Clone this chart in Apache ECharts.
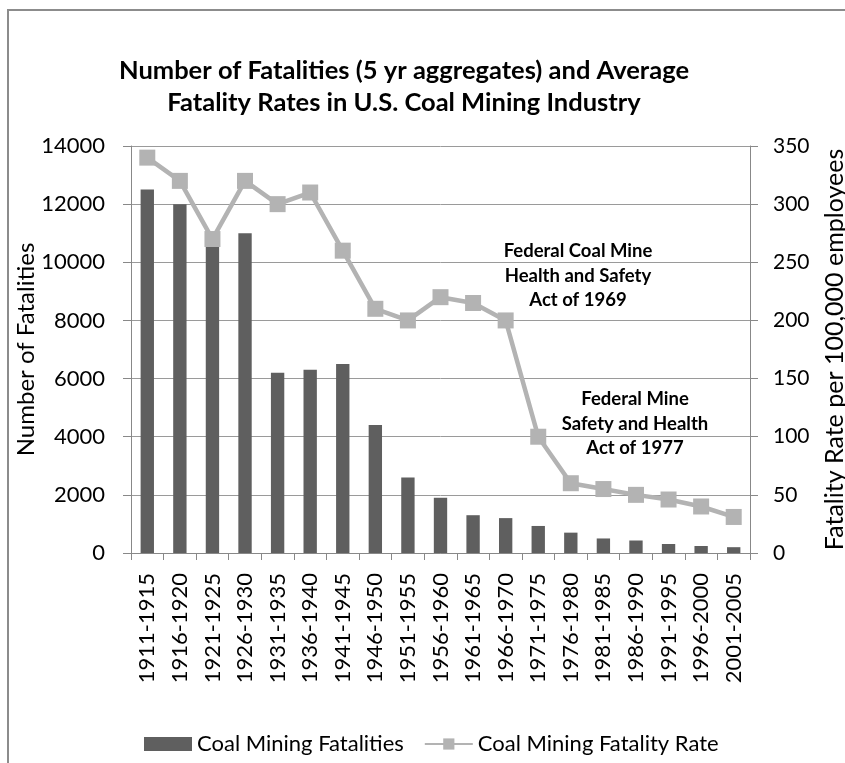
<!DOCTYPE html>
<html>
<head>
<meta charset="utf-8">
<script src="https://cdn.jsdelivr.net/npm/echarts@6/dist/echarts.min.js"></script>
<style>
  html, body { margin: 0; padding: 0; background: #fff; }
  #chart { width: 845px; height: 763px; }
</style>
</head>
<body>
<div id="chart"></div>
<script>
// 5-year periods
const periods = [
  "1911-1915", "1916-1920", "1921-1925", "1926-1930", "1931-1935", "1936-1940",
  "1941-1945", "1946-1950", "1951-1955", "1956-1960", "1961-1965", "1966-1970",
  "1971-1975", "1976-1980", "1981-1985", "1986-1990", "1991-1995", "1996-2000",
  "2001-2005"
];
// number of fatalities (5 yr aggregate)
const fatalities = [
  12500, 12000, 10600, 11000, 6200, 6300, 6500, 4400, 2600, 1900,
  1300, 1200, 930, 700, 500, 430, 310, 240, 200
];
// fatality rate per 100,000 employees
const fatalityRate = [
  340, 320, 270, 320, 300, 310, 260, 210, 200, 220,
  215, 200, 100, 60, 55, 50, 46, 40, 31
];
const leftTicks = { min: 0, max: 14000, interval: 2000 };
const rightTicks = { min: 0, max: 350, interval: 50 };

const font = "Lato, 'Open Sans', sans-serif";
const chart = echarts.init(document.getElementById("chart"));

const option = {
  backgroundColor: "#fff",
  animation: false,
  textStyle: { fontFamily: font },
  title: {
    text: "Number of Fatalities (5 yr aggregates) and Average\nFatality Rates in U.S. Coal Mining Industry",
    left: 399,
    top: 50,
    textAlign: "center",
    textStyle: {
      fontFamily: font,
      fontSize: 25.5,
      fontWeight: "bold",
      color: "#000",
      lineHeight: 32
    }
  },
  legend: {
    top: 728,
    left: 139,
    itemGap: 20,
    itemWidth: 48,
    itemHeight: 14,
    textStyle: { fontFamily: font, fontSize: 22, color: "#000" },
    data: [
      { name: "Coal Mining Fatalities", icon: "rect" },
      { name: "Coal Mining Fatality Rate" }
    ]
  },
  grid: { left: 131, right: 95, top: 146, bottom: 210, outerBoundsMode: "none" },
  xAxis: {
    type: "category",
    data: periods,
    axisLine: { lineStyle: { color: "#888" } },
    axisTick: { show: true, length: 7, lineStyle: { color: "#888" } },
    axisLabel: {
      rotate: 90,
      color: "#000",
      fontSize: 22,
      fontFamily: font,
      margin: 20
    }
  },
  yAxis: [
    {
      type: "value",
      min: leftTicks.min,
      max: leftTicks.max,
      interval: leftTicks.interval,
      name: "Number of Fatalities",
      nameLocation: "middle",
      nameMoveOverlap: false,
      nameGap: 93,
      nameTextStyle: { fontFamily: font, fontSize: 24, color: "#000" },
      axisLine: { show: true, lineStyle: { color: "#888" } },
      axisTick: { show: true, length: 8, lineStyle: { color: "#888" } },
      axisLabel: {
        color: "#000", fontSize: 22, fontFamily: font, margin: 26,
        formatter: (v) => String(v)
      },
      splitLine: { lineStyle: { color: "#9a9a9a", width: 1 } }
    },
    {
      type: "value",
      min: rightTicks.min,
      max: rightTicks.max,
      interval: rightTicks.interval,
      name: "Fatality Rate per 100,000 employees",
      nameLocation: "middle",
      nameGap: 72,
      nameRotate: 90,
      nameTextStyle: { fontFamily: font, fontSize: 25, color: "#000" },
      axisLine: { show: true, lineStyle: { color: "#888" } },
      axisTick: { show: true, length: 8, lineStyle: { color: "#888" } },
      axisLabel: {
        color: "#000", fontSize: 21, fontFamily: font, margin: 23,
        formatter: (v) => String(v)
      },
      splitLine: { show: false }
    }
  ],
  series: [
    {
      name: "Coal Mining Fatalities",
      type: "bar",
      yAxisIndex: 0,
      barWidth: "41%",
      itemStyle: { color: "#5f5f5f" },
      data: fatalities
    },
    {
      name: "Coal Mining Fatality Rate",
      type: "line",
      yAxisIndex: 1,
      symbol: "rect",
      symbolSize: 16,
      lineStyle: { color: "#b3b3b3", width: 4.5 },
      itemStyle: { color: "#b3b3b3" },
      data: fatalityRate,
      z: 3
    }
  ],
  graphic: [
    {
      type: "rect",
      silent: true,
      shape: { x: 8, y: 10, width: 850, height: 800 },
      style: { fill: null, stroke: "#8c8c8c", lineWidth: 2 }
    },
    {
      type: "text",
      x: 578,
      y: 276,
      style: {
        text: "Federal Coal Mine\nHealth and Safety\nAct of 1969",
        align: "center",
        verticalAlign: "middle",
        fontFamily: font,
        fontSize: 18.5,
        fontWeight: "bold",
        lineHeight: 24.5,
        fill: "#000"
      }
    },
    {
      type: "text",
      x: 635,
      y: 424,
      style: {
        text: "Federal Mine\nSafety and Health\nAct of 1977",
        align: "center",
        verticalAlign: "middle",
        fontFamily: font,
        fontSize: 18.5,
        fontWeight: "bold",
        lineHeight: 24.5,
        fill: "#000"
      }
    }
  ]
};

chart.setOption(option);
</script>
</body>
</html>
